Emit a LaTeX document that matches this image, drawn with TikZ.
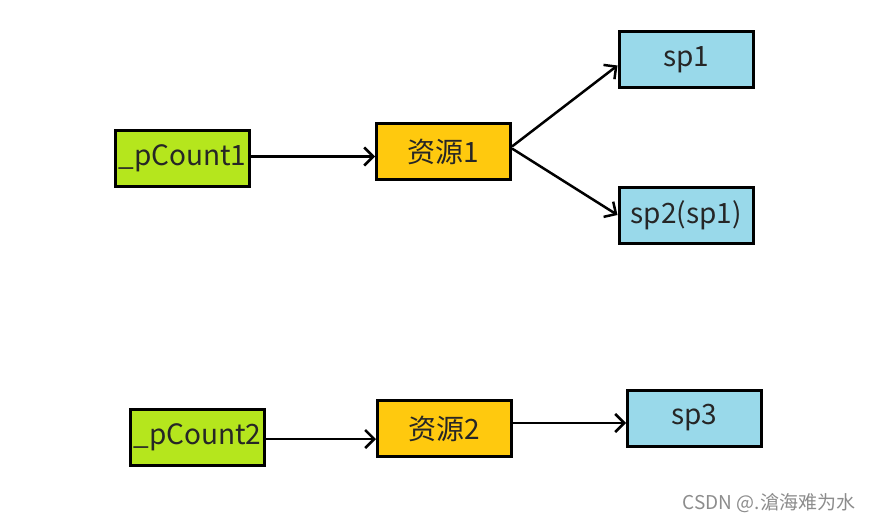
\documentclass[tikz,border=0pt]{standalone}
\usepackage{fontspec}
\setmainfont{Noto Sans CJK SC}
\usepackage{tikz}
\usetikzlibrary{arrows.meta}
\usetikzlibrary{positioning}

\definecolor{countgreen}{HTML}{B5E61D}
\definecolor{resorange}{HTML}{FFC90E}
\definecolor{spblue}{HTML}{99D9EA}

\tikzset{
    box/.style = {draw = black, line width = 3pt, minimum width = 134pt,
        minimum height = 56pt, inner sep = 0pt, text = black!85,
        font = \fontsize{28}{32}\selectfont},
    countbox/.style = {box, fill = countgreen},
    resbox/.style = {box, fill = resorange},
    spbox/.style = {box, fill = spblue},
    link/.style = {line width = 2.5pt, -{Straight Barb[length = 9pt, width = 18pt, line width = 2.5pt]}}
}

\begin{document}
\begin{tikzpicture}[x = 1pt, y = -1pt]
            \useasboundingbox (0, 0) rectangle (872, 522);
            \node [countbox] (pcount1) at (182.5, 158.5) {\_pCount1};
            \node [resbox] (res1) at (443.5, 151.5) {资源1};
            \node [spbox] (sp1) at (686, 59.5) {sp1};
            \node [spbox] (sp2) at (686, 215) {sp2(sp1)};
            \node [countbox] (pcount2) at (197.5, 437.5) {\_pCount2};
            \node [resbox] (res2) at (444.5, 428.5) {资源2};
            \node [spbox] (sp3) at (694.5, 418) {sp3};
            \draw [link] ([yshift = 2pt]pcount1.east) -- ([yshift = 2pt]pcount1.east -| res1.west);
            \draw [link] ([yshift = 5pt]res1.east) -- ([yshift = -6pt]sp1.west);
            \draw [link] ([yshift = 3pt]res1.east) -- (sp2.west);
            \draw [link] ([yshift = -1.5pt]pcount2.east) -- ([yshift = -1.5pt]pcount2.east -| res2.west);
            \draw [link] ([yshift = 5.5pt]res2.east) -- ([yshift = -5pt]sp3.west);
            \node [text = black!45, font = \fontsize{19}{22}\selectfont] (mark) at (769, 503) {CSDN @.滄海难为水};
        \end{tikzpicture}
\end{document}
